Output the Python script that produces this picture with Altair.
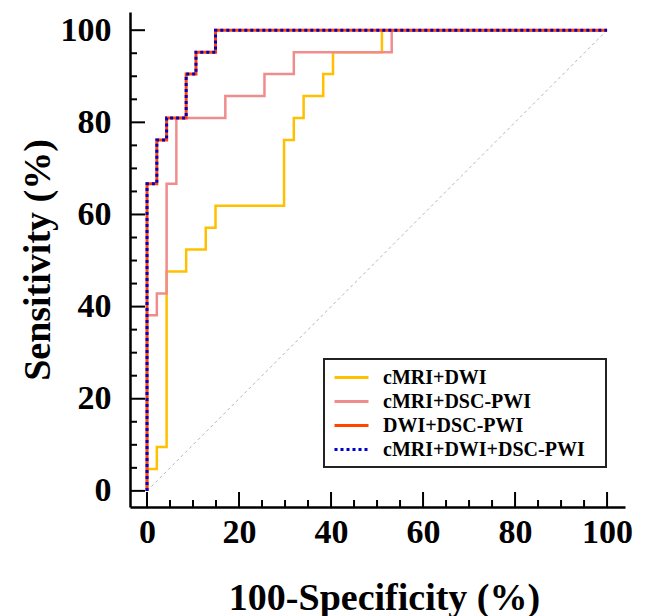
import altair as alt
import pandas as pd

# ---------------- data ----------------
series_names = ["cMRI+DWI", "cMRI+DSC-PWI", "DWI+DSC-PWI", "cMRI+DWI+DSC-PWI"]
series_colors = ["#FFC000", "#F08C8C", "#FF4500", "#0000CC"]

# step-curve vertices: 100-Specificity (%) and Sensitivity (%)
fpr_cmri_dwi = [0, 0, 2.13, 2.13, 4.26, 4.26, 8.51, 8.51, 12.77, 12.77, 14.89, 14.89,
                29.79, 29.79, 31.91, 31.91, 34.04, 34.04, 38.30, 38.30, 40.43, 40.43,
                51.06, 51.06, 100]
tpr_cmri_dwi = [0, 4.76, 4.76, 9.52, 9.52, 47.62, 47.62, 52.38, 52.38, 57.14, 57.14, 61.90,
                61.90, 76.19, 76.19, 80.95, 80.95, 85.71, 85.71, 90.48, 90.48, 95.24,
                95.24, 100, 100]

fpr_cmri_dsc = [0, 0, 2.13, 2.13, 4.26, 4.26, 6.38, 6.38, 17.02, 17.02, 25.53, 25.53,
                31.91, 31.91, 53.19, 53.19, 100]
tpr_cmri_dsc = [0, 38.10, 38.10, 42.86, 42.86, 66.67, 66.67, 80.95, 80.95, 85.71, 85.71,
                90.48, 90.48, 95.24, 95.24, 100, 100]

fpr_dwi_dsc = [0, 0, 2.13, 2.13, 4.26, 4.26, 8.51, 8.51, 10.64, 10.64, 14.89, 14.89, 100]
tpr_dwi_dsc = [0, 66.67, 66.67, 76.19, 76.19, 80.95, 80.95, 90.48, 90.48, 95.24, 95.24, 100, 100]

fpr_all = [0, 0, 2.13, 2.13, 4.26, 4.26, 8.51, 8.51, 10.64, 10.64, 14.89, 14.89, 100]
tpr_all = [0, 66.67, 66.67, 76.19, 76.19, 80.95, 80.95, 90.48, 90.48, 95.24, 95.24, 100, 100]

diag_x = [0, 100]
diag_y = [0, 100]

x_major = [0, 20, 40, 60, 80, 100]
x_minor = [5, 10, 15, 25, 30, 35, 45, 50, 55, 65, 70, 75, 85, 90, 95]
y_major = [0, 20, 40, 60, 80, 100]
y_minor = [5, 10, 15, 25, 30, 35, 45, 50, 55, 65, 70, 75, 85, 90, 95]

# ---------------- tables ----------------
curves = [(series_names[0], fpr_cmri_dwi, tpr_cmri_dwi),
          (series_names[1], fpr_cmri_dsc, tpr_cmri_dsc),
          (series_names[2], fpr_dwi_dsc, tpr_dwi_dsc),
          (series_names[3], fpr_all, tpr_all)]
rows = []
for name, xs, ys in curves:
    for i, (xv, yv) in enumerate(zip(xs, ys)):
        rows.append({"series": name, "fpr": xv, "tpr": yv, "idx": i})
df = pd.DataFrame(rows)
df_diag = pd.DataFrame({"fpr": diag_x, "tpr": diag_y})

W = 495
H = 495
FONT = "Liberation Serif"
NBSP = "\u00a0"

x_scale = alt.Scale(domain=[-3.7, 103.9], nice=False, zero=False)
y_scale = alt.Scale(domain=[-3.5, 103.95], nice=False, zero=False)

x_axis = alt.Axis(values=x_major, ticks=False, grid=False, domainColor="black",
                  domainWidth=2.5, labelFont=FONT, labelFontSize=34, labelFontWeight="bold",
                  labelColor="black", labelPadding=8, title="100-Specificity (%)",
                  titleFont=FONT, titleFontSize=38, titleFontWeight="bold", titleColor="black",
                  titleBaseline="alphabetic", titleY=102, titleX=254)
y_axis = alt.Axis(values=y_major, ticks=False, grid=False, domainColor="black",
                  domainWidth=2.5, labelFont=FONT, labelFontSize=34, labelFontWeight="bold",
                  labelColor="black", labelPadding=19, title="Sensitivity (%)",
                  titleFont=FONT, titleFontSize=38, titleFontWeight="bold", titleColor="black",
                  titleBaseline="middle", titleX=-92)


def X(field):
    return alt.X(field, type="quantitative", scale=x_scale, axis=x_axis)


def Y(field):
    return alt.Y(field, type="quantitative", scale=y_scale, axis=y_axis)


def make_legend():
    return alt.Legend(
        title=NBSP, titleOrient="right", titlePadding=14, titleFontSize=4,
        orient="none", legendX=194, legendY=347,
        strokeColor="#222222", fillColor="white", padding=7,
        symbolType="M-1.7,0H1.7", symbolSize=400, symbolStrokeWidth=3,
        symbolOffset=9, labelOffset=20, rowPadding=2, labelLimit=500,
        labelFont=FONT, labelFontSize=20, labelFontWeight="bold", labelColor="black",
    )


color_enc = alt.Color("series:N", scale=alt.Scale(domain=series_names, range=series_colors),
                      legend=make_legend())
dash_enc = alt.StrokeDash(
    "series:N",
    scale=alt.Scale(domain=series_names, range=[[1, 0], [1, 0], [1, 0], [3, 3]]),
    legend=make_legend(),
)

base = alt.Chart(df)
widths = [2.5, 2.5, 3, 3]
line_layers = []
for name, sw in zip(series_names, widths):
    line_layers.append(
        base.transform_filter(alt.datum.series == name)
        .mark_line(strokeWidth=sw, interpolate="linear")
        .encode(x=X("fpr"), y=Y("tpr"), color=color_enc, strokeDash=dash_enc,
                order=alt.Order("idx:Q"))
    )

diag = alt.Chart(df_diag).mark_line(color="#b5b5b5", strokeWidth=1, strokeDash=[3, 3]).encode(
    x=X("fpr"), y=Y("tpr"))

xt_major = alt.Chart(pd.DataFrame({"v": x_major})).mark_rule(color="black", strokeWidth=2).encode(
    x=X("v"), y=alt.value(H), y2=alt.value(H - 15))
xt_minor = alt.Chart(pd.DataFrame({"v": x_minor})).mark_rule(color="black", strokeWidth=2).encode(
    x=X("v"), y=alt.value(H), y2=alt.value(H - 7))
yt_major = alt.Chart(pd.DataFrame({"v": y_major})).mark_rule(color="black", strokeWidth=2).encode(
    y=Y("v"), x=alt.value(0), x2=alt.value(15))
yt_minor = alt.Chart(pd.DataFrame({"v": y_minor})).mark_rule(color="black", strokeWidth=2).encode(
    y=Y("v"), x=alt.value(0), x2=alt.value(7))

chart = alt.layer(diag, *line_layers, xt_major, xt_minor, yt_major, yt_minor).properties(
    width=W, height=H,
    autosize=alt.AutoSizeParams(type="none"),
    padding={"left": 122, "top": 4, "right": 14, "bottom": 109},
    background="white",
).configure_view(stroke=None).configure_legend(strokeWidth=2)

chart.save("out.html", embed_options={"renderer": "svg", "actions": False})
